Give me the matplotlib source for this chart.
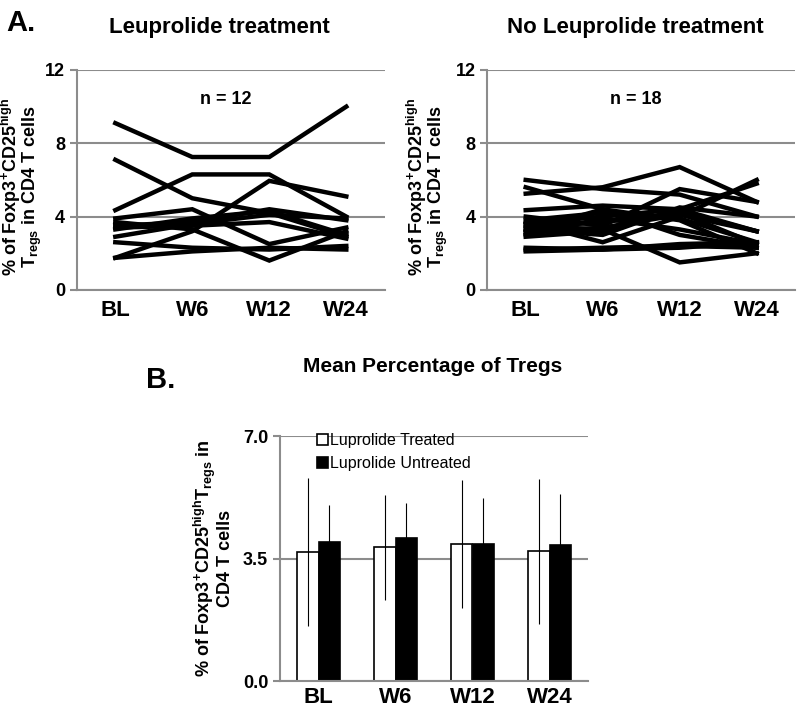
import numpy as np
import matplotlib
matplotlib.use('Agg')
import matplotlib.pyplot as plt

plt.rcParams['font.family'] = ['Liberation Sans', 'DejaVu Sans']
plt.rcParams['mathtext.fontset'] = 'custom'
plt.rcParams['mathtext.rm'] = 'Liberation Sans:bold'
plt.rcParams['mathtext.it'] = 'Liberation Sans:bold'
plt.rcParams['mathtext.bf'] = 'Liberation Sans:bold'

# time points
visits = ['BL', 'W6', 'W12', 'W24']

# individual patients, leuprolide treated (n = 12)
treated = [
    [9.1, 7.25, 7.25, 10.0],
    [4.35, 6.3, 6.3, 4.0],
    [7.1, 5.0, 4.2, 2.9],
    [1.75, 3.2, 5.95, 5.1],
    [1.75, 2.1, 2.3, 2.2],
    [2.6, 2.3, 2.2, 2.4],
    [2.9, 3.6, 4.1, 3.9],
    [3.9, 4.4, 2.5, 3.4],
    [3.7, 3.3, 1.6, 3.2],
    [3.5, 3.7, 4.4, 3.8],
    [3.4, 3.5, 3.7, 2.8],
    [3.3, 3.9, 4.3, 3.0],
]

# individual patients, no leuprolide (n = 18)
untreated = [
    [6.0, 5.5, 5.2, 4.0],
    [5.25, 5.6, 6.7, 4.8],
    [5.6, 4.4, 3.0, 2.3],
    [4.35, 4.6, 4.4, 5.8],
    [4.0, 3.5, 5.5, 4.8],
    [3.8, 4.2, 3.9, 2.6],
    [3.7, 2.6, 4.0, 6.0],
    [3.6, 4.0, 4.4, 3.2],
    [3.5, 3.3, 1.5, 2.0],
    [3.4, 3.7, 4.2, 2.5],
    [3.3, 3.0, 4.5, 4.0],
    [3.2, 4.4, 3.8, 2.0],
    [3.1, 3.4, 4.1, 3.2],
    [3.0, 3.9, 3.3, 2.5],
    [2.9, 3.2, 4.3, 3.2],
    [2.3, 2.2, 2.5, 2.6],
    [2.2, 2.3, 2.4, 2.3],
    [2.1, 2.2, 2.3, 2.6],
]

# means and SD
mean_treated = [3.69, 3.83, 3.93, 3.71]
sd_treated = [2.12, 1.50, 1.83, 2.07]
mean_untreated = [3.99, 4.09, 3.91, 3.89]
sd_untreated = [1.05, 1.01, 1.32, 1.46]

grid_col = '#8c8c8c'
ylab_top = '% of Foxp3$^{+}$CD25$^{high}$\nT$_{regs}$ in CD4 T cells'
ylab_bot = '% of Foxp3$^{+}$CD25$^{high}$T$_{regs}$ in\nCD4 T cells'


def style_axes(ax):
    for s in ['top', 'right']:
        ax.spines[s].set_visible(False)
    ax.spines['left'].set_color(grid_col)
    ax.spines['bottom'].set_color(grid_col)
    ax.spines['left'].set_linewidth(1.5)
    ax.spines['bottom'].set_linewidth(1.5)
    ax.yaxis.grid(True, color=grid_col, linewidth=1.5)
    ax.set_axisbelow(True)
    ax.tick_params(axis='y', color=grid_col, length=5, width=1.5, labelsize=13)
    ax.tick_params(axis='x', length=0, labelsize=16, pad=7)
    for lab in ax.get_xticklabels() + ax.get_yticklabels():
        lab.set_fontweight('bold')


fig = plt.figure(figsize=(8, 7.14), dpi=100)

ax1 = fig.add_axes([0.096, 0.594, 0.385, 0.308])
ax2 = fig.add_axes([0.609, 0.594, 0.385, 0.308])
ax3 = fig.add_axes([0.35, 0.046, 0.385, 0.343])

x = np.arange(len(visits))

for ax, data, n, lx in [(ax1, treated, 12, -0.105), (ax2, untreated, 18, -0.12)]:
    for row in data:
        ax.plot(x, row, color='black', linewidth=3.2, solid_joinstyle='miter')
    ax.set_xlim(-0.5, 3.5)
    ax.set_ylim(0, 12)
    ax.set_yticks([0, 4, 8, 12])
    ax.set_xticks(x)
    ax.set_xticklabels(visits)
    ax.set_ylabel(ylab_top, fontsize=13, fontweight='bold', linespacing=0.9)
    ax.yaxis.set_label_coords(lx, 0.47)
    ax.text(1.43, 10.4, f'n = {n}', ha='center', va='center', fontsize=13, fontweight='bold')
    style_axes(ax)

# bar chart
w = 0.28
ax3.bar(x - w / 2, mean_treated, w, yerr=sd_treated, color='white', edgecolor='black',
        linewidth=1.2, error_kw=dict(elinewidth=0.8, ecolor='black', capsize=0),
        label='Luprolide Treated')
ax3.bar(x + w / 2, mean_untreated, w, yerr=sd_untreated, color='black', edgecolor='black',
        linewidth=1.2, error_kw=dict(elinewidth=0.8, ecolor='black', capsize=0),
        label='Luprolide Untreated')
ax3.set_xlim(-0.5, 3.5)
ax3.set_ylim(0, 7)
ax3.set_yticks([0, 3.5, 7])
ax3.set_yticklabels(['0.0', '3.5', '7.0'])
ax3.set_xticks(x)
ax3.set_xticklabels(visits)
ax3.set_ylabel(ylab_bot, fontsize=13, fontweight='bold', linespacing=0.9)
ax3.yaxis.set_label_coords(-0.15, 0.5)
style_axes(ax3)
ax3.tick_params(axis='x', pad=4)
ax3.legend(loc='upper left', bbox_to_anchor=(0.1, 1.04), frameon=False, fontsize=11.5,
           handlelength=0.7, handleheight=0.7, handletextpad=0.1, labelspacing=0.5,
           borderaxespad=0)

# titles and panel letters
fig.text(0.274, 0.962, 'Leuprolide treatment', ha='center', va='center', fontsize=16, fontweight='bold')
fig.text(0.794, 0.962, 'No Leuprolide treatment', ha='center', va='center', fontsize=16, fontweight='bold')
fig.text(0.541, 0.487, 'Mean Percentage of Tregs', ha='center', va='center', fontsize=15, fontweight='bold')
fig.text(0.008, 0.968, 'A.', ha='left', va='center', fontsize=21, fontweight='bold')
fig.text(0.183, 0.468, 'B.', ha='left', va='center', fontsize=21, fontweight='bold')

plt.savefig('out.png', dpi=100)
